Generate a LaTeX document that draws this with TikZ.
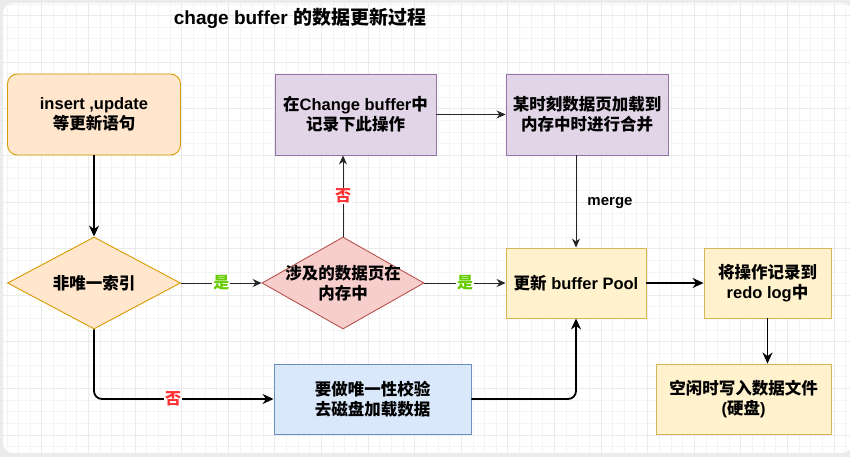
\documentclass[tikz,border=0pt]{standalone}
\usepackage{fontspec}
\setmainfont{Liberation Sans}
\newfontfamily\cjk{Noto Sans CJK SC}
\newcommand\C[1]{{\cjk #1}}
\usetikzlibrary{shapes.geometric,arrows.meta}
\definecolor{orfill}{HTML}{FFE6CC}
\definecolor{ordraw}{HTML}{D79B00}
\definecolor{pufill}{HTML}{E1D5E7}
\definecolor{pudraw}{HTML}{9673A6}
\definecolor{refill}{HTML}{F8CECC}
\definecolor{redraw}{HTML}{B85450}
\definecolor{yefill}{HTML}{FFF2CC}
\definecolor{yedraw}{HTML}{D6B656}
\definecolor{blfill}{HTML}{DAE8FC}
\definecolor{bldraw}{HTML}{6C8EBF}
\definecolor{yesgreen}{HTML}{66CC00}
\definecolor{nored}{HTML}{FF3333}
\definecolor{gridmin}{HTML}{F4F4F4}
\definecolor{gridmaj}{HTML}{EAEAEA}
\tikzset{
  txt/.style={font=\bfseries\fontsize{16.5}{20}\selectfont, align=center, text=black},
  box/.style={txt, draw, line width=0.9pt, inner sep=2pt},
  dia/.style={txt, diamond, draw, line width=0.9pt, inner sep=-15pt},
  thin/.style={line width=0.9pt, draw=black!85, -{Stealth[length=9pt,width=8pt]}},
  thick/.style={line width=1.8pt, draw=black, -{Stealth[length=11pt,width=10pt]}},
  lab/.style={font=\bfseries\fontsize{16}{18}\selectfont, fill=white, inner sep=1pt},
}
\begin{document}
\begin{tikzpicture}[x=1pt,y=-1pt]
\useasboundingbox (0,0) rectangle (850,457);
\fill[black!8] (0,0) rectangle (850,457);
\fill[white, rounded corners=10pt] (3,3) rectangle (852,453);
\begin{scope}
\clip[rounded corners=10pt] (3,3) rectangle (852,453);
\foreach \i in {0,...,75} {
  \draw[gridmin, line width=0.5pt] ({-4.9+11.65*\i},0) -- ({-4.9+11.65*\i},457);
}
\foreach \i in {0,...,40} {
  \draw[gridmin, line width=0.5pt] (0,{3.8+11.65*\i}) -- (850,{3.8+11.65*\i});
}
\foreach \i in {0,...,19} {
  \draw[gridmaj, line width=0.6pt] ({-4.9+46.6*\i},0) -- ({-4.9+46.6*\i},457);
}
\foreach \i in {0,...,10} {
  \draw[gridmaj, line width=0.6pt] (0,{15.45+46.6*\i}) -- (850,{15.45+46.6*\i});
}
\end{scope}

\node[font=\bfseries\fontsize{19}{22}\selectfont] (title) at (300,18) {chage buffer \C{的数据更新过程}};

\node[box, fill=orfill, draw=ordraw, rounded corners=10pt, minimum width=173pt, minimum height=81pt] (A) at (94,114.5) {insert ,update\\\C{等更新语句}};
\node[box, fill=pufill, draw=pudraw, minimum width=161pt, minimum height=81pt] (B) at (355.5,114.5) {\C{在}Change buffer\C{中}\\\C{记录下此操作}};
\node[box, fill=pufill, draw=pudraw, minimum width=162pt, minimum height=81pt] (C) at (587,114.5) {\C{某时刻数据页加载到}\\\C{内存中时进行合并}};
\node[dia, fill=orfill, draw=ordraw, minimum width=173pt, minimum height=92pt] (D) at (94,283) {\C{非唯一索引}};
\node[dia, fill=refill, draw=redraw, minimum width=162pt, minimum height=92pt] (E) at (343,283) {\C{涉及的数据页在}\\\C{内存中}};
\node[box, fill=yefill, draw=yedraw, minimum width=140pt, minimum height=70pt] (F) at (576,283) {\C{更新} buffer Pool};
\node[box, fill=yefill, draw=yedraw, minimum width=127pt, minimum height=70pt] (G) at (767.5,283) {\C{将操作记录到}\\redo log\C{中}};
\node[box, fill=yefill, draw=yedraw, minimum width=175pt, minimum height=70pt] (H) at (743.5,399) {\C{空闲时写入数据文件}\\(\C{硬盘})};
\node[box, fill=blfill, draw=bldraw, minimum width=197pt, minimum height=70pt] (I) at (372.5,399) {\C{要做唯一性校验}\\\C{去磁盘加载数据}};

\draw[thick] (A) -- (D);
\draw[thin] (D) -- node[lab, text=yesgreen] {\C{是}} (E);
\draw[thin] (E) -- node[lab, text=yesgreen] {\C{是}} (F);
\draw[thin] (E.north) -- node[lab, text=nored] {\C{否}} (E.north |- B.south);
\draw[thin] (B) -- (C);
\draw[thin] (F.north |- C.south) -- (F.north);
\node[font=\bfseries\fontsize{15}{17}\selectfont] (merge) at (610,203) {merge};
\draw[thick] (F) -- (G);
\draw[thick] (G.south) -- (G.south |- H.north);
\draw[thick, rounded corners=8pt] (D.south) |- node[pos=0.72, lab, text=nored] {\C{否}} (I.west);
\draw[thick, rounded corners=8pt] (I.east) -| (F.south);
\end{tikzpicture}
\end{document}
